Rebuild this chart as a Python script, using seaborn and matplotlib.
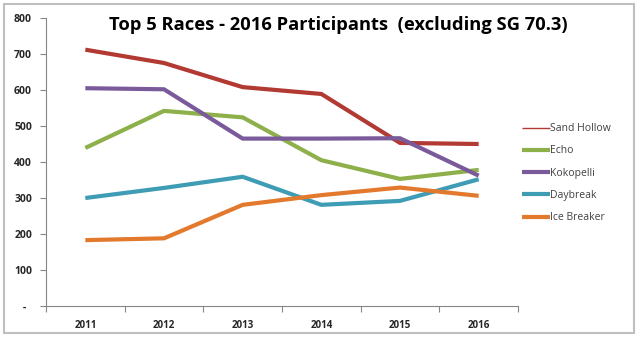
import matplotlib
matplotlib.use("Agg")
import matplotlib.pyplot as plt
import seaborn as sns
import pandas as pd
from matplotlib.lines import Line2D
from matplotlib.patches import Rectangle

years = ["2011", "2012", "2013", "2014", "2015", "2016"]
sand_hollow = [712, 675, 608, 589, 453, 450]
echo = [439, 542, 524, 405, 353, 378]
kokopelli = [605, 602, 465, 465, 466, 362]
daybreak = [300, 328, 359, 281, 292, 352]
ice_breaker = [183, 188, 281, 308, 329, 306]

series_names = ["Sand Hollow", "Echo", "Kokopelli", "Daybreak", "Ice Breaker"]
series_values = [sand_hollow, echo, kokopelli, daybreak, ice_breaker]
colors = ["#B23A33", "#8DB04A", "#7A5A9B", "#3E9CB5", "#E3792C"]
y_ticks = [0, 100, 200, 300, 400, 500, 600, 700, 800]
y_labels = ["-  ", "100", "200", "300", "400", "500", "600", "700", "800"]

rows = []
for name, vals in zip(series_names, series_values):
    for i, v in enumerate(vals):
        rows.append({"pos": i, "year": years[i], "value": v, "race": name})
df = pd.DataFrame(rows)

sns.set_theme(style="white")
plt.rcParams["font.family"] = ["Open Sans", "DejaVu Sans"]

fig = plt.figure(figsize=(6.4, 3.42), dpi=100)
ax = fig.add_axes([46/640, 1-306/342, (518-46)/640, (306-18)/342])

sns.lineplot(data=df, x="pos", y="value", hue="race", hue_order=series_names,
             palette=colors, linewidth=3.0, ax=ax, legend=False,
             solid_capstyle="butt")

ax.set_xlim(-0.5, 5.5)
ax.set_ylim(0, 800)
ax.set_xticks(range(len(years)))
ax.set_xticklabels(years, fontsize=7, fontweight="bold")
ax.set_xticks([i - 0.5 for i in range(len(years) + 1)], minor=True)
ax.tick_params(axis="x", which="major", length=0, pad=10)
ax.tick_params(axis="x", which="minor", length=4, width=0.8, color="#868686", direction="out", bottom=True)
ax.set_yticks(y_ticks)
ax.set_yticklabels(y_labels, fontsize=7.5, fontweight="bold")
ax.tick_params(axis="y", length=4, width=0.8, color="#868686", direction="out", left=True, pad=6)
ax.set_xlabel("")
ax.set_ylabel("")
for s in ["top", "right"]:
    ax.spines[s].set_visible(False)
for s in ["left", "bottom"]:
    ax.spines[s].set_color("#868686")
    ax.spines[s].set_linewidth(0.8)

handles = []
for i, (name, c) in enumerate(zip(series_names, colors)):
    handles.append(Line2D([0], [0], color=c, lw=1.0 if i == 0 else 3.0, solid_capstyle="butt"))
leg = fig.legend(handles, series_names, loc="upper left", bbox_to_anchor=(518/640, 1-119/342),
                 frameon=False, fontsize=7.5, handlelength=2.7, handletextpad=0.0,
                 labelspacing=1.08, borderaxespad=0)
for t in leg.get_texts():
    t.set_color("#404040")

fig.text(338/640, 1-25/342, "Top 5 Races - 2016 Participants  (excluding SG 70.3)",
         ha="center", va="center", fontsize=13.2, fontweight="bold", color="black")

fig.patches.append(Rectangle((4/640, 9/342), 630/640, 329/342, transform=fig.transFigure,
                             fill=False, edgecolor="#BFBFBF", linewidth=1.5))

fig.savefig("out.png", dpi=100)
